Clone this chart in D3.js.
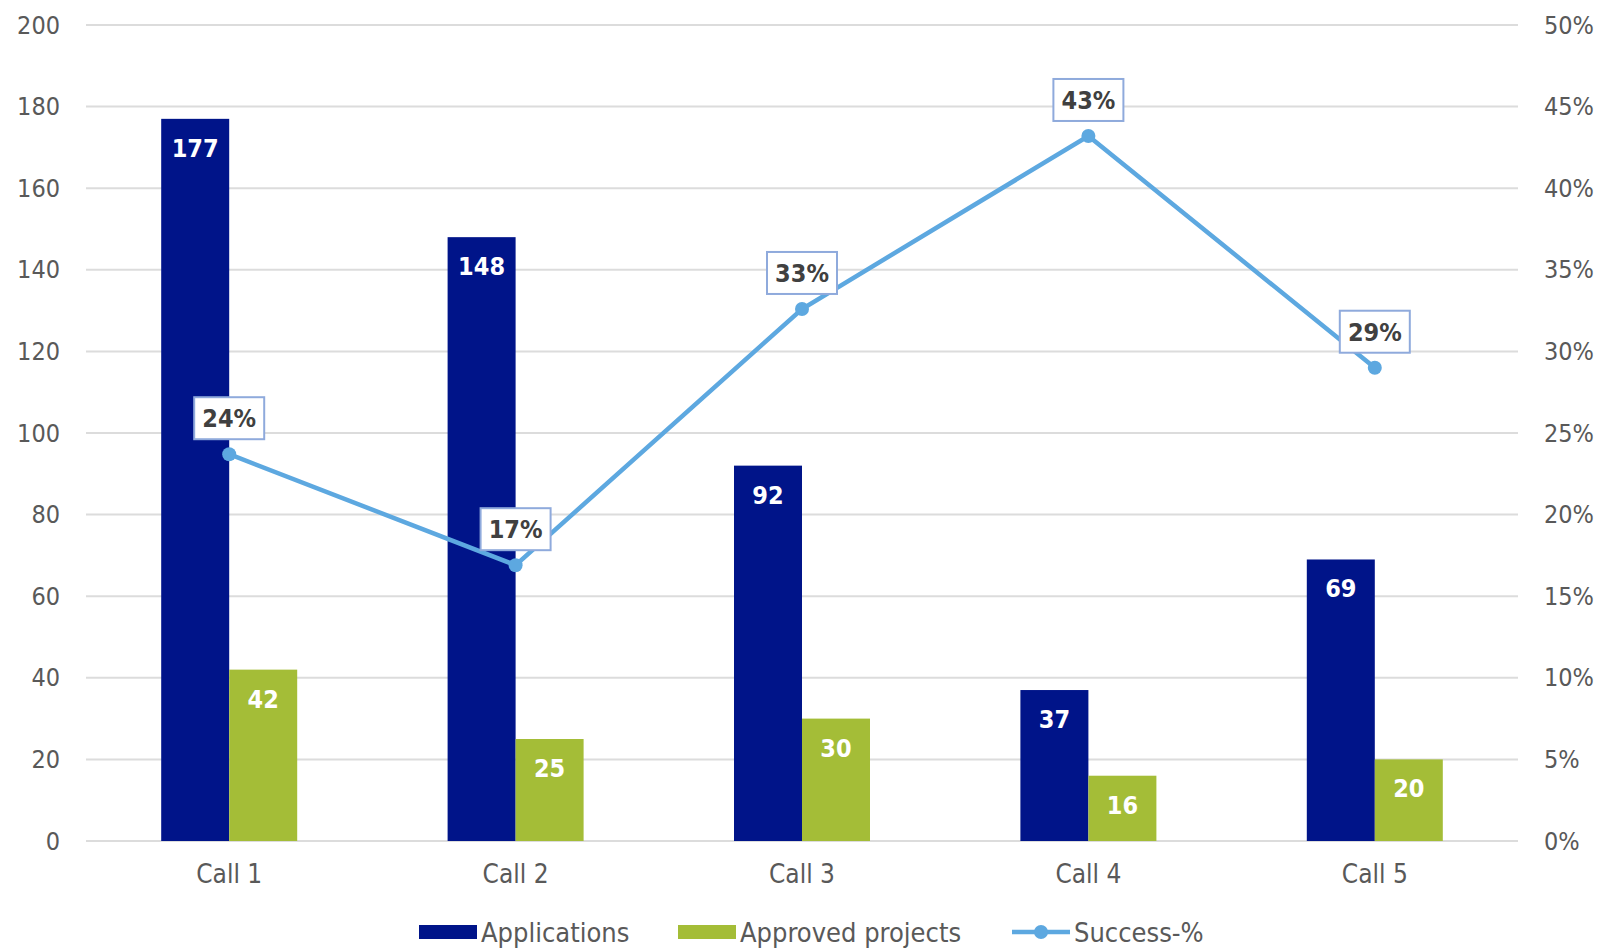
<!DOCTYPE html>
<html><head><meta charset="utf-8">
<script src="https://cdn.jsdelivr.net/npm/d3@7"></script>
<style>
html,body{margin:0;padding:0;background:#fff;}
svg{display:block;font-family:"DejaVu Sans Condensed","DejaVu Sans",sans-serif;}
</style></head>
<body>
<svg id="chart" width="1599" height="948"></svg>
<script>
const categories = ["Call 1","Call 2","Call 3","Call 4","Call 5"];
const applications = [177,148,92,37,69];
const approved = [42,25,30,16,20];
const successPct = [23.7,16.9,32.6,43.2,29.0];
const successLabels = ["24%","17%","33%","43%","29%"];
const leftTicks = [0,20,40,60,80,100,120,140,160,180,200];
const rightTicks = [0,5,10,15,20,25,30,35,40,45,50];
const seriesNames = ["Applications","Approved projects","Success-%"];

const colApp = "#001489", colAppr = "#A4BD37", colLine = "#5DA8E0";
const svg = d3.select("#chart");
const m = {left:86, right:1518, top:25, bottom:841};

const x = d3.scaleBand().domain(categories).range([m.left, m.right]).paddingInner(0).paddingOuter(0);
const yL = d3.scaleLinear().domain([0,200]).range([m.bottom, m.top]);
const yR = d3.scaleLinear().domain([0,50]).range([m.bottom, m.top]);
const barW = 68;
const cx = c => x(c) + x.bandwidth()/2;

// gridlines
svg.append("g").selectAll("line").data(leftTicks).join("line")
  .attr("x1", m.left).attr("x2", m.right)
  .attr("y1", d=>yL(d)).attr("y2", d=>yL(d))
  .attr("stroke", "#DCDCDC").attr("stroke-width", 2);

// left axis
const gL = svg.append("g").attr("transform", `translate(${m.left},0)`)
  .call(d3.axisLeft(yL).tickValues(leftTicks).tickSize(0).tickPadding(26));
gL.select(".domain").remove();
gL.selectAll("text").attr("font-size", 25).attr("fill", "#595959")
  .attr("font-family", '"DejaVu Sans Condensed","DejaVu Sans",sans-serif');

// right axis
const gR = svg.append("g").attr("transform", `translate(${m.right},0)`)
  .call(d3.axisRight(yR).tickValues(rightTicks).tickSize(0).tickPadding(26).tickFormat(d=>d+"%"));
gR.select(".domain").remove();
gR.selectAll("text").attr("font-size", 25).attr("fill", "#595959")
  .attr("font-family", '"DejaVu Sans Condensed","DejaVu Sans",sans-serif');

// bottom axis
const gB = svg.append("g").attr("transform", `translate(0,${m.bottom})`)
  .call(d3.axisBottom(x).tickSize(0).tickPadding(24));
gB.select(".domain").remove();
gB.selectAll("text").attr("font-size", 26).attr("fill", "#595959")
  .attr("font-family", '"DejaVu Sans Condensed","DejaVu Sans",sans-serif');

// bars
const appData = categories.map((c,i)=>({c, v:applications[i]}));
const apprData = categories.map((c,i)=>({c, v:approved[i]}));
svg.append("g").selectAll("rect").data(appData).join("rect")
  .attr("x", d=>cx(d.c)-barW).attr("width", barW)
  .attr("y", d=>yL(d.v)).attr("height", d=>yL(0)-yL(d.v)).attr("fill", colApp);
svg.append("g").selectAll("rect").data(apprData).join("rect")
  .attr("x", d=>cx(d.c)).attr("width", barW)
  .attr("y", d=>yL(d.v)).attr("height", d=>yL(0)-yL(d.v)).attr("fill", colAppr);

// bar labels
svg.append("g").selectAll("text").data(appData).join("text")
  .attr("x", d=>cx(d.c)-barW/2).attr("y", d=>yL(d.v)+38)
  .attr("text-anchor","middle").attr("font-size",25).attr("font-weight","bold")
  .attr("fill","#fff").text(d=>d.v);
svg.append("g").selectAll("text").data(apprData).join("text")
  .attr("x", d=>cx(d.c)+barW/2).attr("y", d=>yL(d.v)+38)
  .attr("text-anchor","middle").attr("font-size",25).attr("font-weight","bold")
  .attr("fill","#fff").text(d=>d.v);

// line
const lineData = categories.map((c,i)=>({c, v:successPct[i], l:successLabels[i]}));
svg.append("path").datum(lineData)
  .attr("d", d3.line().x(d=>cx(d.c)).y(d=>yR(d.v)))
  .attr("fill","none").attr("stroke", colLine).attr("stroke-width", 4.5);
svg.append("g").selectAll("circle").data(lineData).join("circle")
  .attr("cx", d=>cx(d.c)).attr("cy", d=>yR(d.v)).attr("r", 7).attr("fill", colLine);

// line labels
const lg = svg.append("g").selectAll("g").data(lineData).join("g")
  .attr("transform", d=>`translate(${cx(d.c)},${yR(d.v)-15})`);
lg.append("rect").attr("x",-35).attr("y",-42).attr("width",70).attr("height",42)
  .attr("fill","#fff").attr("stroke","#8FAADC").attr("stroke-width",2);
lg.append("text").attr("x",0).attr("y",-12).attr("text-anchor","middle")
  .attr("font-size",25).attr("font-weight","bold").attr("fill","#404040").text(d=>d.l);

// legend
const legX = [419, 678, 1012];
const legY = 932;
const leg = svg.append("g");
[0,1].forEach(i=>{
  leg.append("rect").attr("x",legX[i]).attr("y",legY-7).attr("width",58).attr("height",14)
    .attr("fill", i===0?colApp:colAppr);
});
leg.append("line").attr("x1",legX[2]).attr("x2",legX[2]+58).attr("y1",legY).attr("y2",legY)
  .attr("stroke",colLine).attr("stroke-width",4.5);
leg.append("circle").attr("cx",legX[2]+29).attr("cy",legY).attr("r",7).attr("fill",colLine);
seriesNames.forEach((n,i)=>{
  leg.append("text").attr("x",legX[i]+62).attr("y",legY+10)
    .attr("font-size",27).attr("fill","#595959").text(n);
});
</script>
</body></html>
